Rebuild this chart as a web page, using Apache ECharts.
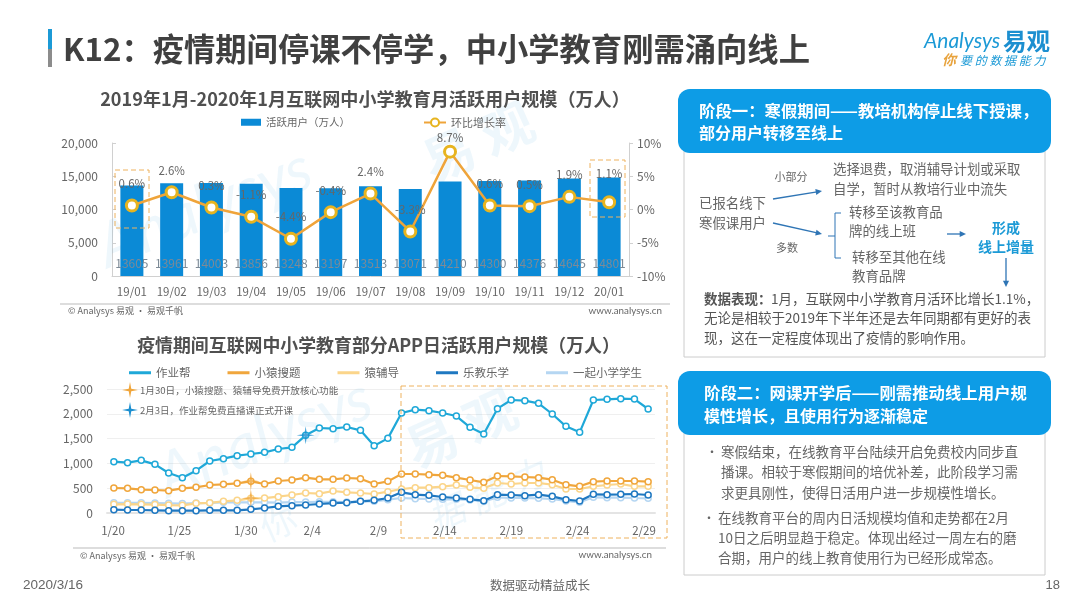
<!DOCTYPE html>
<html>
<head>
<meta charset="utf-8">
<title>K12</title>
<style>
html,body{margin:0;padding:0;background:#fff;}
#main{width:1080px;height:608px;}
</style>
<script src="https://cdn.jsdelivr.net/npm/echarts@6/dist/echarts.min.js"></script>
</head>
<body>
<div id="main"></div>
<script>
var months = ['19/01','19/02','19/03','19/04','19/05','19/06','19/07','19/08','19/09','19/10','19/11','19/12','20/01'];
var activeUsers = [13605,13961,14003,13856,13248,13197,13513,13071,14210,14300,14376,14645,14801];
var growthRate = [0.6,2.6,0.3,-1.1,-4.4,-0.4,2.4,-3.3,8.7,0.6,0.5,1.9,1.1];

var days = ['1/20','1/21','1/22','1/23','1/24','1/25','1/26','1/27','1/28','1/29','1/30','1/31','2/1','2/2','2/3','2/4','2/5','2/6','2/7','2/8',
    '2/9','2/10','2/11','2/12','2/13','2/14','2/15','2/16','2/17','2/18','2/19','2/20','2/21','2/22','2/23','2/24','2/25','2/26','2/27','2/28'];
var dayLabels = ['1/20','1/25','1/30','2/4','2/9','2/14','2/19','2/24','2/29'];
var zuoyebang = [1035,1015,1062,981,806,712,853,1048,1095,1156,1190,1223,1290,1324,1566,1714,1700,1734,1667,1357,
    1505,2016,2083,2063,2016,1955,1727,1593,2103,2278,2265,2211,1996,1747,1626,2278,2292,2305,2298,2097];
var xiaoyuan = [504,497,470,464,450,497,517,564,578,598,638,585,645,665,712,679,679,706,692,585,
    638,786,786,773,759,712,665,618,746,739,726,712,672,571,538,632,645,645,645,632];
var yuanfudao = [175,180,175,170,160,155,195,205,235,255,296,300,330,363,403,390,443,417,403,383,
    430,484,510,510,530,565,517,497,605,585,605,605,571,484,484,538,565,585,538,538];
var lejiao = [67,60,60,54,47,47,47,54,54,54,74,101,134,148,161,181,201,208,235,255,
    302,417,370,356,323,302,276,249,370,363,349,370,336,269,242,376,370,376,383,363];
var yiqi = [205,205,205,200,195,190,200,205,215,215,215,215,210,220,220,225,225,220,235,235,
    269,302,289,282,276,276,262,235,316,302,302,296,282,242,215,316,309,309,302,296];

var FONT = '"Noto Sans CJK SC"';
var GRAY = '#666';
var STAR = 'path://M50 0 L57 43 L100 50 L57 57 L50 100 L43 57 L0 50 L43 43 Z';
var COLORS = {'作业帮': '#1fa8d8', '小猿搜题': '#f0a63c', '猿辅导': '#fbd58a', '乐教乐学': '#1f78c1', '一起小学学生': '#b5d6f2'};

function txt(text, x, y, size, color, opts) {
    opts = opts || {};
    return {
        type: 'text',
        z: opts.z || 10,
        rotation: opts.rotation || 0,
        x: x,
        y: y,
        style: {
            text: text,
            fill: color || GRAY,
            font: (opts.italic ? 'italic ' : '') + (opts.bold ? 'bold ' : '') + size + 'px ' + (opts.family || FONT),
            align: opts.align || 'left',
            verticalAlign: 'middle'
        }
    };
}
function rect(x, y, w, h, fill, stroke, r, dash, z) {
    return {
        type: 'rect',
        z: z || 5,
        shape: {x: x, y: y, width: w, height: h, r: r || 0},
        style: {fill: fill, stroke: stroke || null, lineWidth: stroke ? 1 : 0, lineDash: dash || null}
    };
}
function line(x1, y1, x2, y2, color, w) {
    return {
        type: 'line',
        z: 6,
        shape: {x1: x1, y1: y1, x2: x2, y2: y2},
        style: {stroke: color, lineWidth: w || 1}
    };
}
function arrow(x1, y1, x2, y2) {
    var a = Math.atan2(y2 - y1, x2 - x1), s = 7, o = 0.45;
    return [line(x1, y1, x2 - Math.cos(a) * 5, y2 - Math.sin(a) * 5, '#2f75b5', 1.3), {
        type: 'polygon',
        z: 6,
        shape: {points: [[x2, y2],
            [x2 - s * Math.cos(a - o), y2 - s * Math.sin(a - o)],
            [x2 - s * Math.cos(a + o), y2 - s * Math.sin(a + o)]]},
        style: {fill: '#2f75b5'}
    }];
}
// 注释文字前面的星号
function keyStar(cx, cy, r, color) {
    var t = r * 0.16;
    return {
        type: 'polygon',
        z: 10,
        shape: {points: [[cx, cy - r], [cx + t, cy - t], [cx + r, cy], [cx + t, cy + t],
            [cx, cy + r], [cx - t, cy + t], [cx - r, cy], [cx - t, cy - t]]},
        style: {fill: color}
    };
}

function dailySeries(name, values) {
    var color = COLORS[name];
    return {
        name: name,
        type: 'line',
        xAxisIndex: 1,
        yAxisIndex: 2,
        data: values,
        symbol: 'circle',
        symbolSize: 6,
        showAllSymbol: true,
        lineStyle: {color: color, width: 2.2},
        itemStyle: {color: '#fff', borderColor: color, borderWidth: 1.5}
    };
}

var wm = 'rgba(90,180,225,0.10)';
var graphics = [
    // 水印
    txt('Analysys', 100, 250, 62, wm, {rotation: 0.38, family: 'Lato', italic: true, z: 1}),
    txt('易 观', 425, 165, 52, wm, {rotation: 0.42, bold: true, z: 1}),
    txt('Analysys', 160, 480, 62, wm, {rotation: 0.38, family: 'Lato', italic: true, z: 1}),
    txt('易 观', 408, 452, 52, wm, {rotation: 0.42, bold: true, z: 1}),
    txt('据 能 力', 430, 520, 36, wm, {rotation: 0.42, italic: true, z: 1}),
    txt('你', 262, 530, 36, wm, {rotation: 0.42, z: 1}),

    // 页眉
    rect(48, 29, 4, 20, '#1c9ad6'),
    rect(48, 49, 4, 18, '#8c8c8c'),
    txt('K12：疫情期间停课不停学，中小学教育刚需涌向线上', 63, 49, 31.3, '#404040', {bold: true}),
    txt('Analysys', 924, 41, 21, '#1c9ad6', {italic: true, family: 'Lato'}),
    txt('易观', 1003, 41, 23.5, '#1c8fd0', {bold: true}),
    txt('你', 942, 60, 14, '#e8a33d', {italic: true, bold: true}),
    txt('要 的 数 据 能 力', 960, 60, 12, '#1c9ad6', {italic: true}),

    // 图表标题
    txt('2019年1月-2020年1月互联网中小学教育月活跃用户规模（万人）', 365, 99, 18.1, '#505050', {bold: true, align: 'center'}),
    txt('疫情期间互联网中小学教育部分APP日活跃用户规模（万人）', 378.5, 345, 17.9, '#505050', {bold: true, align: 'center'}),

    // 上图虚线框与来源
    rect(115, 170, 34, 58, 'transparent', '#eeb25f', 0, [5, 3], 8),
    rect(590, 160, 35, 57, 'transparent', '#eeb25f', 0, [5, 3], 8),
    line(60, 304, 670, 304, '#bbb'),
    txt('© Analysys 易观 · 易观千帆', 68, 311, 9, GRAY),
    txt('www.analysys.cn', 662, 311, 9.8, GRAY, {align: 'right', family: 'Lato'}),

    // 下图注释
    keyStar(130, 390, 8, '#f0a63c'),
    keyStar(130, 410, 8, '#1c8fd0'),
    txt('1月30日，小猿搜题、猿辅导免费开放核心功能', 140, 390, 9.6, GRAY),
    txt('2月3日，作业帮免费直播课正式开课', 140, 410, 9.5, GRAY),
    rect(401, 386, 266, 152, 'transparent', '#eeb25f', 0, [5, 3], 8),
    line(73, 548, 666, 548, '#bbb'),
    txt('© Analysys 易观 · 易观千帆', 80, 556, 9, GRAY),
    txt('www.analysys.cn', 652, 555, 9.8, GRAY, {align: 'right', family: 'Lato'}),

    // 右侧 阶段一
    rect(684, 145, 361, 212, '#fff', '#ccc'),
    rect(678, 89, 373, 64, '#0d9ce6', null, 12),
    txt('阶段一：寒假期间——教培机构停止线下授课，', 699, 111, 16.4, '#fff', {bold: true}),
    txt('部分用户转移至线上', 699, 133, 16, '#fff', {bold: true}),
    txt('小部分', 791, 177, 11, GRAY, {align: 'center'}),
    txt('选择退费，取消辅导计划或采取', 833, 169, 13.4, GRAY),
    txt('自学，暂时从教培行业中流失', 833, 189, 13.4, GRAY),
    txt('已报名线下', 699, 203, 13.4, GRAY),
    txt('寒假课用户', 699, 223, 13.4, GRAY),
    txt('多数', 787, 248, 11, GRAY, {align: 'center'}),
    txt('转移至该教育品', 849, 212, 13.4, GRAY),
    txt('牌的线上班', 849, 231, 13.4, GRAY),
    txt('转移至其他在线', 852, 257, 13.4, GRAY),
    txt('教育品牌', 852, 276, 13.4, GRAY),
    line(841, 213, 835, 213, '#2f75b5'),
    line(835, 213, 835, 258, '#2f75b5'),
    line(835, 258, 841, 258, '#2f75b5'),
    line(828, 236, 835, 236, '#2f75b5'),
    txt('形成', 1006, 228, 14, '#1c9ad6', {bold: true, align: 'center'}),
    txt('线上增量', 1006, 247, 14, '#1c9ad6', {bold: true, align: 'center'}),
    txt('数据表现：', 704, 299, 13.5, '#555', {bold: true}),
    txt('1月，互联网中小学教育月活环比增长1.1%，', 771, 299, 13.5, '#555'),
    txt('无论是相较于2019年下半年还是去年同期都有更好的表', 704, 318, 13.5, '#555'),
    txt('现，这在一定程度体现出了疫情的影响作用。', 704, 338, 13.5, '#555'),

    // 右侧 阶段二
    rect(684, 425, 361, 150, '#fff', '#ccc'),
    rect(678, 371, 373, 64, '#0d9ce6', null, 12),
    txt('阶段二：网课开学后——刚需推动线上用户规', 704, 393, 16.4, '#fff', {bold: true}),
    txt('模性增长，且使用行为逐渐稳定', 704, 416, 16, '#fff', {bold: true}),
    txt('•', 706, 452, 12, GRAY),
    txt('寒假结束，在线教育平台陆续开启免费校内同步直', 721, 452, 13.5, GRAY),
    txt('播课。相较于寒假期间的培优补差，此阶段学习需', 721, 472, 13.5, GRAY),
    txt('求更具刚性，使得日活用户进一步规模性增长。', 721, 493, 13.5, GRAY),
    txt('•', 703, 518, 12, GRAY),
    txt('在线教育平台的周内日活规模均值和走势都在2月', 718, 518, 13.5, GRAY),
    txt('10日之后明显趋于稳定。体现出经过一周左右的磨', 718, 538, 13.5, GRAY),
    txt('合期，用户的线上教育使用行为已经形成常态。', 718, 558, 13.5, GRAY),

    // 页脚
    txt('2020/3/16', 23, 585, 13.5, GRAY, {family: 'Liberation Sans'}),
    txt('数据驱动精益成长', 540, 585, 12.5, GRAY, {align: 'center'}),
    txt('18', 1060, 585, 13, GRAY, {align: 'right', family: 'Liberation Sans'})
].concat(
    arrow(773, 199, 822, 191),
    arrow(773, 223, 822, 234),
    arrow(947, 234, 966, 234),
    arrow(1006, 258, 1006, 287)
);

// 8.7% 和 1.1% 两个标签离圆点的距离和其他点不一样
var rateLabelGap = {8: 1, 12: 16};
var rateData = growthRate.map(function (v, i) {
    if (rateLabelGap[i] != null) {
        return {value: v, label: {distance: rateLabelGap[i]}};
    }
    return v;
});

var dailyLegend = ['作业帮', '小猿搜题', '猿辅导', '乐教乐学', '一起小学学生'].map(function (n) {
    return {name: n, itemStyle: {color: COLORS[n], borderWidth: 0}};
});

var option = {
    animation: false,
    textStyle: {fontFamily: FONT},
    graphic: {elements: graphics},
    legend: [
        {
            left: 236, top: 112, itemWidth: 20, itemHeight: 7,
            textStyle: {color: GRAY, fontSize: 10.5},
            data: [{name: '活跃用户（万人）', icon: 'rect'}]
        },
        {
            left: 418, top: 112, itemWidth: 22, itemHeight: 10,
            textStyle: {color: GRAY, fontSize: 11},
            data: ['环比增长率']
        },
        {
            left: 124, top: 362, itemWidth: 22, itemHeight: 3, itemGap: 37, icon: 'rect',
            textStyle: {color: GRAY, fontSize: 11.5},
            data: dailyLegend
        }
    ],
    grid: [
        {left: 112, width: 517, top: 143, height: 133},
        {left: 107, width: 548, top: 389, height: 124},
        {left: 113, width: 531, top: 389, height: 124}
    ],
    xAxis: [
        {
            type: 'category', gridIndex: 0, data: months,
            axisLine: {lineStyle: {color: '#d0d0d0'}},
            axisTick: {show: false},
            axisLabel: {color: GRAY, fontSize: 11.5, margin: 10, interval: 0}
        },
        {
            type: 'category', gridIndex: 1, data: days,
            axisLine: {lineStyle: {color: '#e4e4e4', width: 2}},
            axisTick: {show: false},
            axisLabel: {show: false}
        },
        {
            type: 'category', gridIndex: 2, data: dayLabels, boundaryGap: false,
            axisLine: {show: false},
            axisTick: {show: false},
            axisLabel: {color: GRAY, fontSize: 11.5, margin: 12, interval: 0}
        }
    ],
    yAxis: [
        {
            type: 'value', gridIndex: 0, min: 0, max: 20000, interval: 5000,
            axisLine: {show: true, lineStyle: {color: '#d0d0d0'}},
            axisTick: {show: true, inside: true, length: 4, lineStyle: {color: '#d0d0d0'}},
            splitLine: {show: false},
            axisLabel: {color: GRAY, fontSize: 12, margin: 14}
        },
        {
            type: 'value', gridIndex: 0, position: 'right', min: -10, max: 10, interval: 5,
            axisLine: {show: true, lineStyle: {color: '#d0d0d0'}},
            axisTick: {show: true, length: 4, lineStyle: {color: '#d0d0d0'}},
            splitLine: {show: false},
            axisLabel: {color: GRAY, fontSize: 12, margin: 8, formatter: '{value}%'}
        },
        {
            type: 'value', gridIndex: 1, min: 0, max: 2500, interval: 500,
            axisLine: {show: false},
            axisTick: {show: false},
            splitLine: {lineStyle: {color: '#efefef'}},
            axisLabel: {color: GRAY, fontSize: 12, margin: 14}
        },
        {type: 'value', gridIndex: 2, min: 0, max: 1, show: false}
    ],
    series: [
        {
            name: '活跃用户（万人）',
            type: 'bar',
            xAxisIndex: 0,
            yAxisIndex: 0,
            data: activeUsers,
            barWidth: 23,
            itemStyle: {color: '#0b8ad6'},
            label: {show: true, position: 'insideBottom', distance: 7, color: '#7d8a96', fontSize: 12}
        },
        {
            name: '环比增长率',
            type: 'line',
            xAxisIndex: 0,
            yAxisIndex: 1,
            data: rateData,
            symbol: 'circle',
            symbolSize: 11,
            lineStyle: {color: '#efa43a', width: 2.5},
            itemStyle: {color: '#fff', borderColor: '#e7b41f', borderWidth: 3},
            label: {show: true, position: 'top', distance: 9, color: GRAY, fontSize: 11.5, formatter: '{c}%'}
        },
        dailySeries('一起小学学生', yiqi),
        dailySeries('猿辅导', yuanfudao),
        dailySeries('乐教乐学', lejiao),
        dailySeries('小猿搜题', xiaoyuan),
        dailySeries('作业帮', zuoyebang),
        {
            name: '免费开放',
            type: 'scatter',
            xAxisIndex: 1,
            yAxisIndex: 2,
            symbol: STAR,
            symbolSize: 18,
            z: 5,
            itemStyle: {color: '#f0a63c'},
            data: [[10, xiaoyuan[10]], [10, yuanfudao[10]]]
        },
        {
            name: '直播开课',
            type: 'scatter',
            xAxisIndex: 1,
            yAxisIndex: 2,
            symbol: STAR,
            symbolSize: 18,
            z: 5,
            itemStyle: {color: '#1c8fd0'},
            data: [[14, zuoyebang[14]]]
        }
    ]
};

var chart = echarts.init(document.getElementById('main'));
chart.setOption(option);
</script>
</body>
</html>
